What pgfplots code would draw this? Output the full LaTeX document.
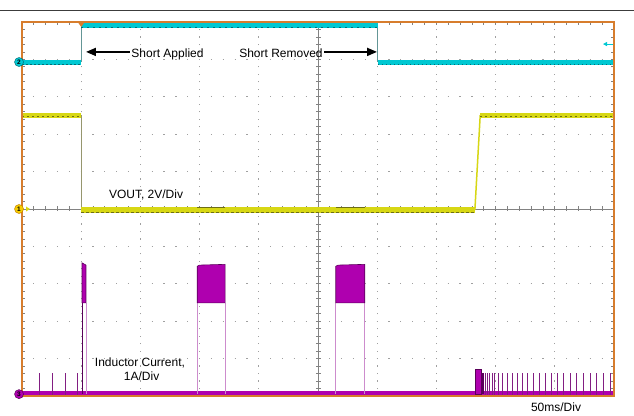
\documentclass[border=0pt]{standalone}
\usepackage{pgfplots}
\pgfplotsset{compat=1.18}
\usetikzlibrary{arrows.meta}
\usepackage{fontspec}
\setmainfont{Liberation Sans}
\definecolor{scopecyan}{RGB}{0,200,210}
\definecolor{cyandark}{RGB}{0,110,120}
\definecolor{cyanedge}{RGB}{100,150,150}
\definecolor{scopeyellow}{RGB}{215,215,20}
\definecolor{scopeolive}{RGB}{110,110,20}
\definecolor{yellowedge}{RGB}{150,150,110}
\definecolor{scopemag}{RGB}{175,0,175}
\definecolor{scopemagdark}{RGB}{90,0,90}
\definecolor{scopepink}{RGB}{205,140,205}
\definecolor{spikemag}{RGB}{130,30,130}
\definecolor{scopeorange}{RGB}{215,125,45}
\definecolor{gridgray}{RGB}{160,160,160}
\definecolor{axgray}{RGB}{130,130,130}
\definecolor{topline}{RGB}{60,60,60}
\begin{document}
\begin{tikzpicture}[x=1pt,y=1pt]
\useasboundingbox (0,0) rectangle (634,415);
\fill[white] (0,0) rectangle (634,415);
\draw[topline, line width=0.9pt] (0,405) -- (634,405);
\begin{axis}[
  at={(22pt,19pt)}, anchor=south west,
  width=592pt, height=374pt, scale only axis,
  xmin=0, xmax=10, ymin=0, ymax=10,
  axis line style={draw=none},
  xtick={1,2,3,4,6,7,8,9}, ytick={1,2,3,4,6,7,8,9},
  xticklabels={}, yticklabels={},
  major tick length=0pt, tick style={draw=none},
  xmajorgrids, ymajorgrids,
  major x grid style={gridgray, line width=1.3pt, dash pattern=on 1.2pt off 6.28pt, dash phase=0.6pt},
  major y grid style={gridgray, line width=1.3pt, dash pattern=on 1.2pt off 10.64pt, dash phase=0.6pt},
  clip mode=individual,
]
% center axes with ticks
\draw[axgray, line width=0.7pt] (axis cs:0,5) -- (axis cs:10,5);
\draw[axgray, line width=5pt, dash pattern=on 0.8pt off 11.04pt, dash phase=0.4pt] (axis cs:0,5) -- (axis cs:10,5);
\draw[axgray, line width=0.7pt] (axis cs:5,0) -- (axis cs:5,10);
\draw[axgray, line width=5pt, dash pattern=on 0.8pt off 6.68pt, dash phase=0.4pt] (axis cs:5,0) -- (axis cs:5,10);
% border ticks
\draw[axgray, line width=3pt, dash pattern=on 0.8pt off 6.68pt, dash phase=0.4pt] ([xshift=1.5pt]axis cs:0,0) -- ([xshift=1.5pt]axis cs:0,10);
\draw[axgray, line width=3pt, dash pattern=on 0.8pt off 6.68pt, dash phase=0.4pt] ([xshift=-1.5pt]axis cs:10,0) -- ([xshift=-1.5pt]axis cs:10,10);
\draw[axgray, line width=3pt, dash pattern=on 0.8pt off 11.04pt, dash phase=0.4pt] ([yshift=-1.5pt]axis cs:0,10) -- ([yshift=-1.5pt]axis cs:10,10);
\draw[axgray, line width=3pt, dash pattern=on 0.8pt off 11.04pt, dash phase=0.4pt] ([yshift=1.5pt]axis cs:0,0) -- ([yshift=1.5pt]axis cs:10,0);

% ---- Channel 2 (cyan) ----
\addplot[cyanedge, line width=0.8pt] coordinates {(1.0,8.93) (1.0,9.92)};
\addplot[cyanedge, line width=0.8pt] coordinates {(6.01,9.92) (6.01,8.93)};
\addplot[scopecyan, line width=5pt] coordinates {(0,8.93) (1.0,8.93)};
\addplot[scopecyan, line width=5pt] coordinates {(1.0,9.9) (6.01,9.9)};
\addplot[scopecyan, line width=5pt] coordinates {(6.01,8.93) (10,8.93)};
\addplot[cyandark, line width=0.6pt, dash pattern=on 1.5pt off 2.5pt] coordinates {(0,8.87) (1.0,8.87)};
\addplot[cyandark, line width=0.6pt, dash pattern=on 1.5pt off 2.5pt] coordinates {(6.01,8.87) (10,8.87)};
\addplot[cyandark, line width=0.6pt, dash pattern=on 2pt off 4pt] coordinates {(1.0,9.86) (6.01,9.86)};

% ---- Channel 1 (yellow) ----
\addplot[yellowedge, line width=0.8pt] coordinates {(1.0,7.51) (1.0,4.97)};
\addplot[scopeyellow, line width=5pt] coordinates {(0,7.51) (1.0,7.51)};
\addplot[scopeyellow, line width=6.5pt] coordinates {(1.0,4.97) (7.65,4.97)};
\addplot[scopeyellow, line width=1.5pt] coordinates {(7.65,4.97) (7.74,7.51)};
\addplot[scopeyellow, line width=5pt] coordinates {(7.74,7.51) (10,7.51)};
\addplot[scopeolive, line width=0.6pt, dash pattern=on 2pt off 3pt] coordinates {(0,7.47) (1.0,7.47)};
\addplot[scopeolive, line width=0.6pt, dash pattern=on 2pt off 3pt] coordinates {(7.74,7.47) (10,7.47)};
\addplot[scopeolive, line width=0.6pt, dash pattern=on 3pt off 2pt] coordinates {(1.0,4.92) (7.65,4.92)};
\addplot[scopeolive, line width=0.6pt] coordinates {(2.96,5.05) (3.43,5.05)};
\addplot[scopeolive, line width=0.6pt] coordinates {(5.30,5.05) (5.79,5.05)};

% ---- Channel 3 (magenta) ----
\addplot[scopemag, line width=5pt] coordinates {(0,0.08) (10,0.08)};
\addplot[spikemag, ycomb, line width=0.7pt, no marks] coordinates {(0.287,0.615) (0.507,0.615) (0.726,0.615) (0.929,0.615)};
% burst 1
\addplot[scopemagdark, line width=0.8pt] coordinates {(1.014,2.49) (1.014,0.06)};
\addplot[scopepink, line width=0.8pt] coordinates {(1.081,2.49) (1.081,0.06)};
\addplot[fill=scopemag, draw=scopemagdark, line width=0.6pt] coordinates {(1.014,3.56) (1.081,3.50) (1.081,2.49) (1.014,2.49)} -- cycle;
% burst 2
\addplot[scopepink, line width=0.9pt] coordinates {(2.96,2.49) (2.96,0.06)};
\addplot[scopepink, line width=0.9pt] coordinates {(3.43,2.49) (3.43,0.06)};
\addplot[fill=scopemag, draw=scopemagdark, line width=0.6pt] coordinates {(2.96,3.47) (3.00,3.50) (3.43,3.52) (3.43,2.49) (2.96,2.49)} -- cycle;
% burst 3
\addplot[scopepink, line width=0.9pt] coordinates {(5.30,2.49) (5.30,0.06)};
\addplot[scopepink, line width=0.9pt] coordinates {(5.79,2.49) (5.79,0.06)};
\addplot[fill=scopemag, draw=scopemagdark, line width=0.6pt] coordinates {(5.30,3.47) (5.34,3.50) (5.79,3.52) (5.79,2.49) (5.30,2.49)} -- cycle;
% restart
\addplot[fill=scopemag, draw=scopemagdark, line width=0.5pt] coordinates {(7.65,0.06) (7.65,0.714) (7.75,0.714) (7.75,0.06)} -- cycle;
\addplot[fill=scopemagdark, draw=none] coordinates {(7.75,0.06) (7.75,0.62) (7.80,0.62) (7.80,0.06)} -- cycle;
\addplot[spikemag, ycomb, line width=0.8pt, no marks] coordinates {
(7.821,0.62) (7.855,0.62) (7.894,0.62) (7.939,0.62) (7.985,0.62)
(8.046,0.62) (8.120,0.62) (8.193,0.62) (8.277,0.62) (8.367,0.62)
(8.458,0.62) (8.542,0.62) (8.644,0.62) (8.738,0.62) (8.840,0.62)
(8.941,0.62) (9.049,0.62) (9.150,0.62) (9.257,0.62) (9.370,0.62)
(9.481,0.62) (9.595,0.62) (9.708,0.62) (9.819,0.62) (9.932,0.62)};

% border
\draw[scopeorange, line width=1.8pt] (rel axis cs:0,0) rectangle (rel axis cs:1,1);
% trigger marker
\fill[scopeorange] ([xshift=-3.5pt]axis cs:1.0,10) -- ([xshift=3.5pt]axis cs:1.0,10) -- ([yshift=-5pt]axis cs:1.0,10) -- cycle;
% cyan level arrow at right
\draw[scopecyan, line width=1pt, -{Triangle[length=4pt,width=4pt]}] ([xshift=-1pt]axis cs:10,9.41) -- ([xshift=-11pt]axis cs:10,9.41);

% channel markers
\node[circle, fill=scopecyan, draw=cyandark, line width=0.5pt, inner sep=0pt, minimum size=9pt, font=\fontsize{6.5}{7}\selectfont\bfseries] at (axis cs:-0.05,8.93) {2};
\fill[scopeyellow] ([xshift=4pt,yshift=2.5pt]axis cs:0,5) -- ([xshift=4pt,yshift=-2.5pt]axis cs:0,5) -- ([xshift=8pt]axis cs:0,5) -- cycle;
\node[circle, fill={rgb,255:red,245;green,205;blue,0}, draw={rgb,255:red,200;green,130;blue,0}, line width=0.5pt, inner sep=0pt, minimum size=9pt, font=\fontsize{6.5}{7}\selectfont\bfseries] at (axis cs:-0.05,5.0) {1};
\node[circle, fill=scopemag, draw=scopemagdark, line width=0.5pt, inner sep=0pt, minimum size=9pt, font=\fontsize{6.5}{7}\selectfont\bfseries] at (axis cs:-0.05,0.05) {3};

% annotations
\node[anchor=base, font=\fontsize{12}{14}\selectfont, inner sep=0pt] at (axis cs:2.458,9.056) {Short Applied};
\draw[black, line width=1.8pt, -{Triangle[length=10pt,width=8pt]}] (axis cs:1.824,9.20) -- (axis cs:1.081,9.20);
\node[anchor=base, font=\fontsize{12}{14}\selectfont, inner sep=0pt] at (axis cs:4.375,9.056) {Short Removed};
\draw[black, line width=1.8pt, -{Triangle[length=10pt,width=8pt]}] (axis cs:5.10,9.20) -- (axis cs:5.997,9.20);
\node[anchor=base, font=\fontsize{12}{14}\selectfont, inner sep=0pt] at (axis cs:2.095,5.286) {VOUT, 2V/Div};
\node[anchor=base, font=\fontsize{12}{14}\selectfont, inner sep=0pt] at (axis cs:1.993,0.783) {Inductor Current,};
\node[anchor=base, font=\fontsize{12}{14}\selectfont, inner sep=0pt] at (axis cs:2.02,0.42) {1A/Div};
\end{axis}
\node[anchor=base, font=\fontsize{12}{14}\selectfont, inner sep=0pt] at (556,4) {50ms/Div};
\end{tikzpicture}
\end{document}
